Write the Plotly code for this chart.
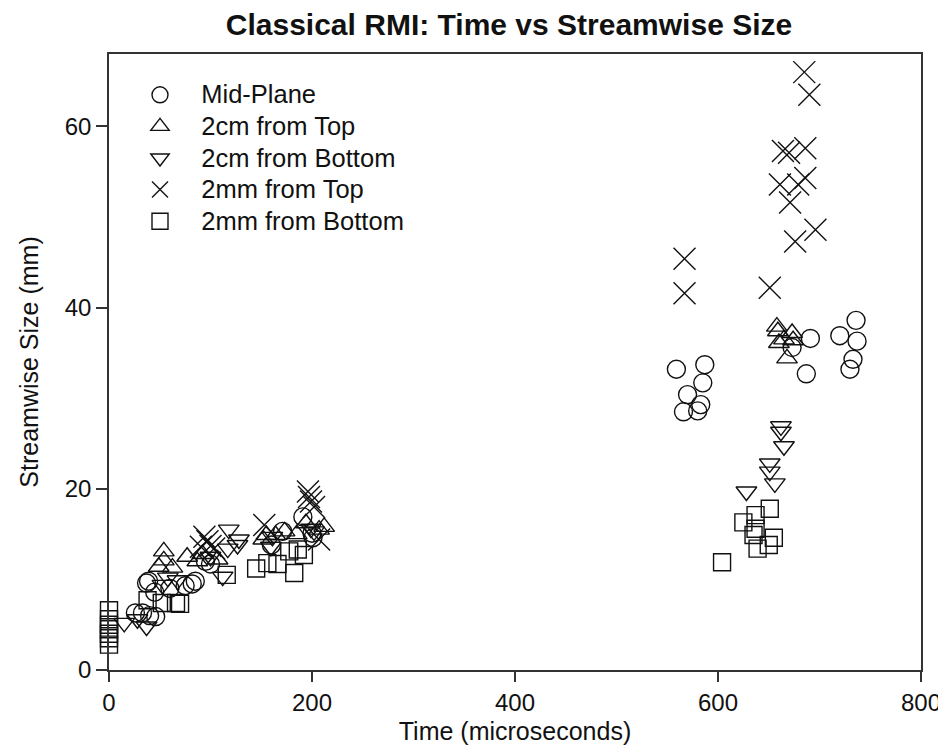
import plotly.graph_objects as go

# ---- data (time in microseconds, streamwise size in mm) ----
mid_t = [26, 33, 40, 46, 37, 39, 45, 60, 75, 82, 85, 95, 100, 160, 171, 191, 200, 201,
         559, 587, 585, 570, 583, 566, 580, 691, 720, 737, 733, 730, 687, 736, 673]
mid_v = [6.3, 6.3, 6.0, 5.9, 9.6, 9.8, 8.6, 9.0, 9.3, 9.5, 9.8, 12.0, 11.7, 13.8, 15.3, 16.9, 15.1, 14.6,
         33.2, 33.7, 31.7, 30.4, 29.3, 28.5, 28.6, 36.6, 36.9, 36.3, 34.3, 33.2, 32.7, 38.6, 35.6]

top2cm_t = [49, 54, 54, 62.5, 77, 87, 92, 107, 152, 155, 164, 173, 185, 194, 207, 212,
            658, 659, 673, 665, 660, 674, 668]
top2cm_v = [11.4, 13.1, 12.1, 11.3, 12.5, 12.0, 12.8, 12.2, 14.4, 14.9, 14.9, 15.3, 15.0, 16.2, 15.5, 15.8,
            37.9, 37.4, 37.2, 36.5, 36.1, 36.4, 34.4]

bot2cm_t = [15, 28, 37, 52.6, 58, 67.5, 100, 112, 117, 118, 126.6, 128, 159.5, 161, 199, 202,
            662, 662, 665, 651, 651, 656, 628]
bot2cm_v = [5.2, 5.6, 4.8, 9.4, 10.2, 9.9, 12.5, 10.3, 13.4, 15.5, 13.8, 14.4, 13.6, 14.7, 15.6, 15.3,
            26.9, 26.3, 24.7, 22.8, 21.9, 20.6, 19.7]

top2mm_t = [90.5, 94, 97, 100, 103.6, 153, 196, 197, 199, 202, 207,
            567, 567, 651, 685, 690, 664, 670, 686, 661, 679, 686, 671, 696, 676]
top2mm_v = [13.6, 14.7, 14.2, 13.7, 13.4, 16.0, 19.7, 19.1, 18.6, 18.0, 14.4,
            45.4, 41.6, 42.2, 66.0, 63.5, 57.3, 57.1, 57.6, 53.6, 53.6, 54.3, 51.6, 48.6, 47.3]

bot2mm_t = [0, 0, 0, 0, 0, 0, 0, 38, 52, 66, 70, 116, 145, 156, 166, 177.6, 182.5, 186, 192,
            651, 637, 625, 637, 635, 655, 639, 650, 604]
bot2mm_v = [6.6, 5.6, 5.0, 4.5, 4.0, 3.5, 2.8, 7.7, 7.4, 7.4, 7.3, 10.5, 11.2, 11.8, 11.7, 13.1, 10.7, 13.3, 12.7,
            17.8, 17.1, 16.3, 15.6, 14.9, 14.6, 13.4, 13.8, 11.9]

series_names = ["Mid-Plane", "2cm from Top", "2cm from Bottom", "2mm from Top", "2mm from Bottom"]

FONT = "Arial, Liberation Sans, sans-serif"
INK = "#111111"
AX = "#333333"
pad = "\u00a0\u00a0\u00a0"

fig = go.Figure()

specs = [
    (mid_t, mid_v, "circle-open", 18),
    (top2cm_t, top2cm_v, "triangle-up-open", 18),
    (bot2cm_t, bot2cm_v, "triangle-down-open", 18),
    (top2mm_t, top2mm_v, "x-thin-open", 22),
    (bot2mm_t, bot2mm_v, "square-open", 17),
]
for name, (xs, ys, sym, sz) in zip(series_names, specs):
    fig.add_trace(go.Scatter(
        x=xs, y=ys, mode="markers", cliponaxis=False,
        name='<span style="font-size:25.5px">' + pad + name + "</span>",
        marker=dict(symbol=sym, size=sz, color=INK, line=dict(color=INK, width=1.4)),
    ))

# page has an 8px body margin; figure is sized to fit the window
W, H = 936, 737
L, R, T, B = 101, 23, 46, 75
pw = W - L - R
ph = H - T - B

fig.update_layout(
    width=W, height=H,
    margin=dict(l=L, r=R, t=T, b=B),
    paper_bgcolor="white", plot_bgcolor="white",
    font=dict(family=FONT, color=INK, size=24),
    title=dict(text="<b>Classical RMI: Time vs Streamwise Size</b>",
               x=501 / W, xanchor="center", y=1 - 16 / H, yanchor="middle",
               font=dict(size=30, family=FONT, color=INK)),
    showlegend=True,
    legend=dict(x=(132 - L) / pw, y=1 - (66 - T) / ph, xanchor="left", yanchor="top",
                bgcolor="rgba(0,0,0,0)", borderwidth=0,
                font=dict(size=22, family=FONT, color=INK),
                itemsizing="trace", tracegroupgap=0),
    xaxis=dict(range=[0, 800], tickvals=[0, 200, 400, 600, 800],
               showgrid=False, zeroline=False, showline=True, linecolor=AX, linewidth=1.5,
               mirror=True, ticks="outside", ticklen=10, tickwidth=1.5, tickcolor=AX,
               tickfont=dict(size=24), automargin=False, ticklabeloverflow="allow",
               title=dict(text="Time (microseconds)", standoff=15, font=dict(size=25))),
    yaxis=dict(range=[0, 68], tickvals=[0, 20, 40, 60],
               showgrid=False, zeroline=False, showline=True, linecolor=AX, linewidth=1.5,
               mirror=True, ticks="outside", ticklen=11, tickwidth=1.5, tickcolor=AX,
               tickfont=dict(size=24), automargin=False,
               title=dict(text="Streamwise Size (mm)", standoff=19, font=dict(size=25))),
)

# axis-line extensions past the corner (as in the original)
fig.add_shape(type="line", xref="paper", yref="paper", x0=-12 / pw, x1=0, y0=0, y1=0,
              line=dict(color=AX, width=1.5))
fig.add_shape(type="line", xref="paper", yref="paper", x0=0, x1=0, y0=-10 / ph, y1=0,
              line=dict(color=AX, width=1.5))

fig.write_html("out.html")
